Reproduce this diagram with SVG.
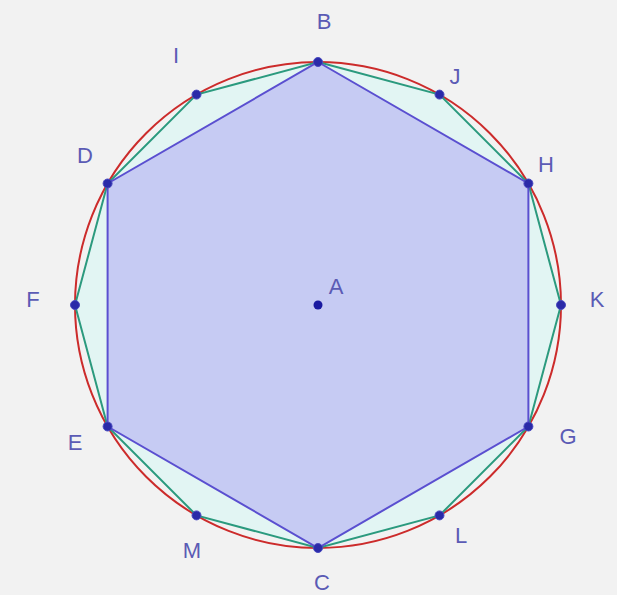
<svg xmlns="http://www.w3.org/2000/svg" width="617" height="595" viewBox="0 0 617 595">
<style>
.lbl{font-family:"Liberation Sans",Arial,sans-serif;font-size:22px;fill:#5b5bb5;text-anchor:middle}
.pt{fill:#2a2aa8;stroke:#4a4ac0;stroke-width:1}
</style>
<rect width="617" height="595" fill="#f2f2f2"/>
<g id="circle"><circle cx="318" cy="305" r="243" fill="none" stroke="#cc2b2b" stroke-width="2"/></g>
<g id="dodecagon"><polygon points="318,62 439.5,94.6 528.4,183.5 561,305 528.4,426.5 439.5,515.4 318,548 196.5,515.4 107.6,426.5 75,305 107.6,183.5 196.5,94.6" fill="#e2f5f3" stroke="#2b9a7e" stroke-width="2"/></g>
<g id="hexagon"><polygon points="318,62 528.4,183.5 528.4,426.5 318,548 107.6,426.5 107.6,183.5" fill="#c6cbf3" stroke="#5a4fd0" stroke-width="2"/></g>
<g id="points">
<circle class="pt" cx="318" cy="62" r="4.5"/>
<circle class="pt" cx="439.5" cy="94.6" r="4.5"/>
<circle class="pt" cx="528.4" cy="183.5" r="4.5"/>
<circle class="pt" cx="561" cy="305" r="4.5"/>
<circle class="pt" cx="528.4" cy="426.5" r="4.5"/>
<circle class="pt" cx="439.5" cy="515.4" r="4.5"/>
<circle class="pt" cx="318" cy="548" r="4.5"/>
<circle class="pt" cx="196.5" cy="515.4" r="4.5"/>
<circle class="pt" cx="107.6" cy="426.5" r="4.5"/>
<circle class="pt" cx="75" cy="305" r="4.5"/>
<circle class="pt" cx="107.6" cy="183.5" r="4.5"/>
<circle class="pt" cx="196.5" cy="94.6" r="4.5"/>
<circle cx="318" cy="305" r="4.5" fill="#1a1aa0"/>
</g>
<g id="labels">
<text class="lbl" x="324" y="29">B</text>
<text class="lbl" x="176" y="63">I</text>
<text class="lbl" x="455" y="84">J</text>
<text class="lbl" x="85" y="163">D</text>
<text class="lbl" x="546" y="172">H</text>
<text class="lbl" x="33" y="307">F</text>
<text class="lbl" x="597" y="307">K</text>
<text class="lbl" x="75" y="450">E</text>
<text class="lbl" x="568" y="444">G</text>
<text class="lbl" x="192" y="558">M</text>
<text class="lbl" x="461" y="543">L</text>
<text class="lbl" x="322" y="590">C</text>
<text class="lbl" x="336" y="294">A</text>
</g>
</svg>
